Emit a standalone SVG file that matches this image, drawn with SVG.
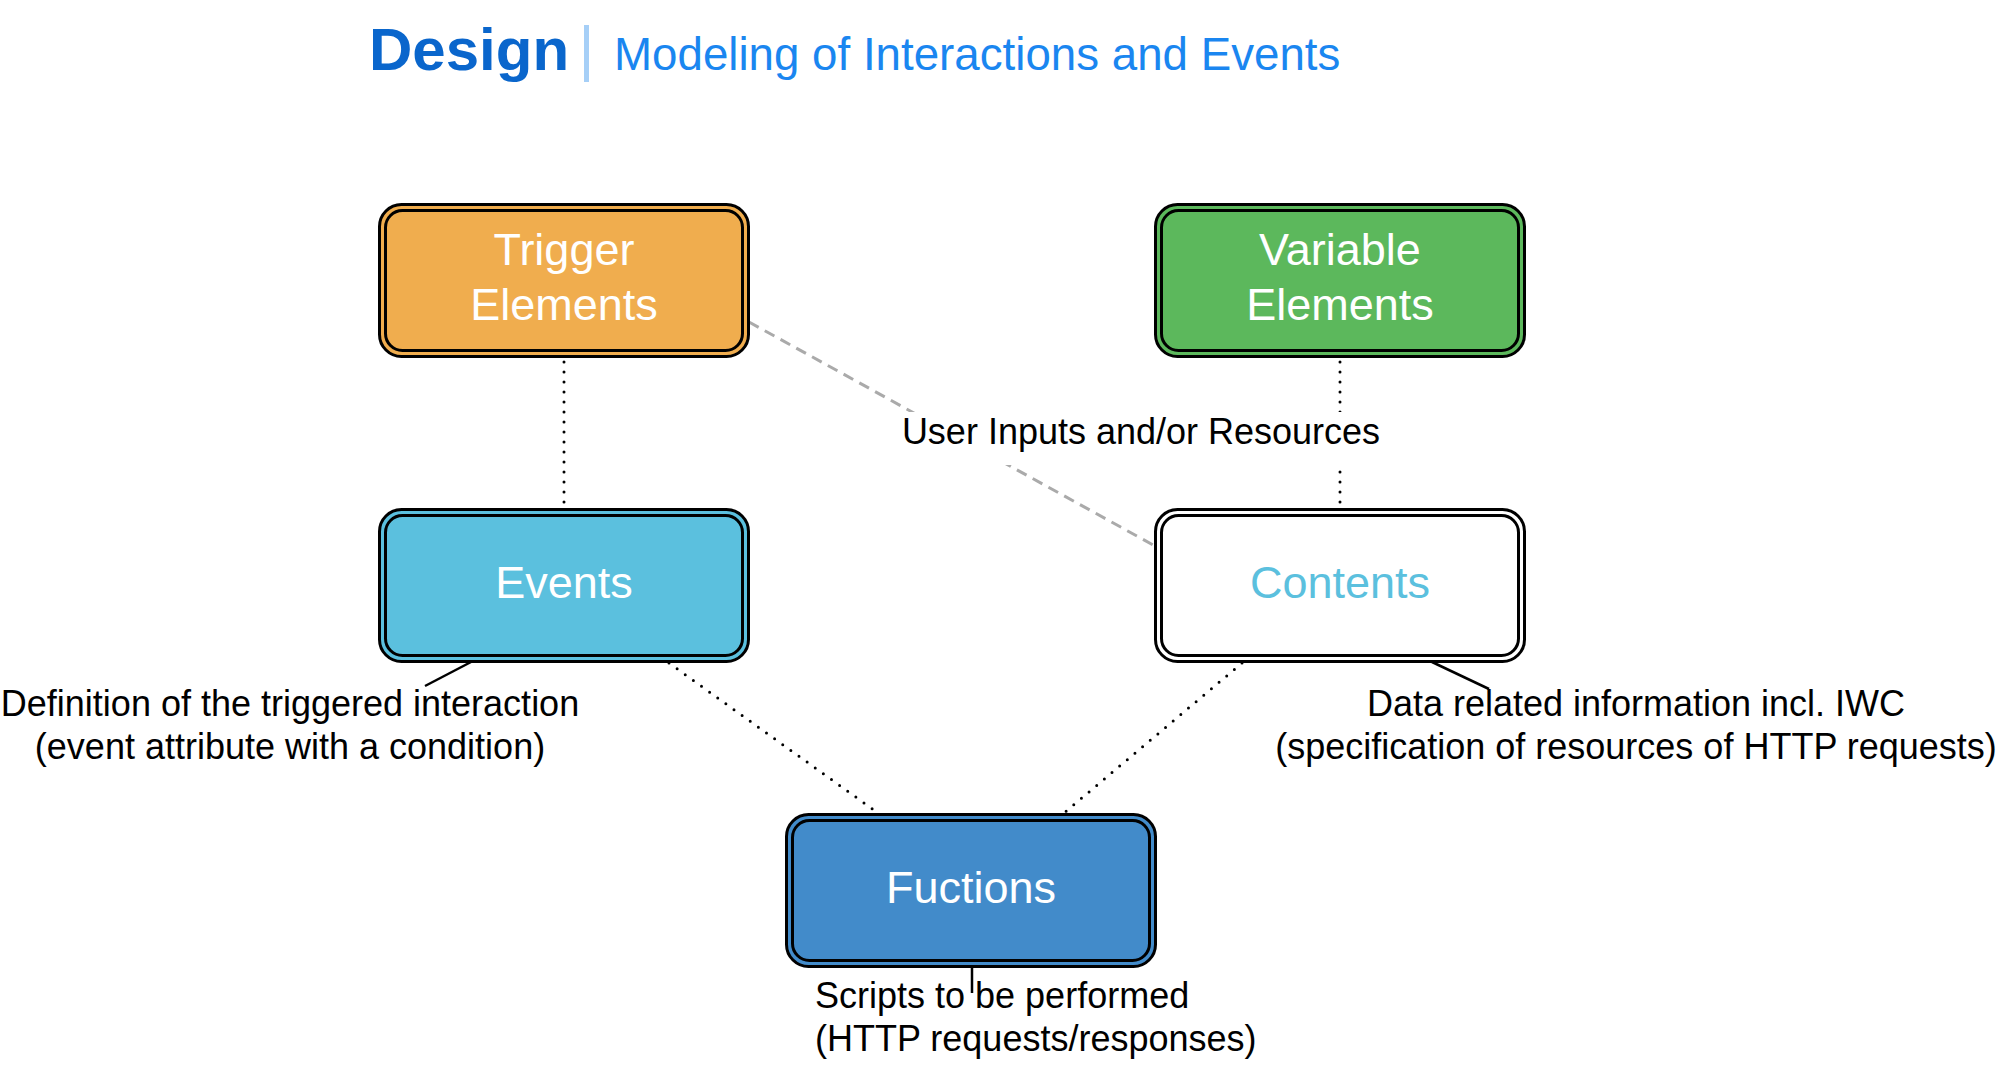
<svg xmlns="http://www.w3.org/2000/svg" width="2001" height="1068" viewBox="0 0 2001 1068">
<style>
  .t{font-family:"Liberation Sans",Arial,Helvetica,sans-serif}
  .box-o{stroke:#000;stroke-width:3}
  .box-i{fill:none;stroke:#000;stroke-width:3}
  .bt{font-family:"Liberation Sans",Arial,sans-serif;font-size:45px;fill:#fff;text-anchor:middle}
  .lbl{font-family:"Liberation Sans",Arial,sans-serif;font-size:36px;fill:#000}
  .dot{stroke:#000;stroke-width:3;stroke-linecap:round;stroke-dasharray:0 10;fill:none}
  .dash{stroke:#aaa;stroke-width:3;stroke-dasharray:11 7;fill:none}
  .lead{stroke:#000;stroke-width:2.5;fill:none}
</style>
<rect width="2001" height="1068" fill="#fff"/>
<g id="title">
  <text class="t" x="369" y="70" font-size="60" font-weight="bold" fill="#0a66cc">Design</text>
  <rect x="584" y="25" width="5" height="57" fill="#a6cff7"/>
  <text class="t" x="614" y="70" font-size="45.7" fill="#1a86f0">Modeling of Interactions and Events</text>
</g>
<g id="connectors">
  <line class="dash" x1="749" y1="322" x2="1155" y2="546"/>
  <line class="dot" x1="564" y1="362" x2="564" y2="506"/>
  <line class="dot" x1="1340" y1="362" x2="1340" y2="506"/>
  <line class="dot" x1="669" y1="663" x2="878" y2="813"/>
  <line class="dot" x1="1242" y1="663" x2="1064" y2="813"/>
  <line class="lead" x1="471" y1="662" x2="425" y2="686"/>
  <line class="lead" x1="1432" y1="662" x2="1489" y2="689"/>
  <line class="lead" x1="972" y1="967" x2="972" y2="993"/>
  <rect x="900" y="412" width="482" height="53" fill="#fff"/>
  <text class="lbl" x="1141" y="444" text-anchor="middle">User Inputs and/or Resources</text>
</g>
<g id="trigger">
  <rect class="box-o" x="379.5" y="204.5" width="369" height="152" rx="22" fill="#f0ad4e"/>
  <rect class="box-i" x="385.5" y="210.5" width="357" height="140" rx="17"/>
  <text class="bt" x="564" y="265">Trigger</text>
  <text class="bt" x="564" y="320">Elements</text>
</g>
<g id="variable">
  <rect class="box-o" x="1155.5" y="204.5" width="369" height="152" rx="22" fill="#5cb85c"/>
  <rect class="box-i" x="1161.5" y="210.5" width="357" height="140" rx="17"/>
  <text class="bt" x="1340" y="265">Variable</text>
  <text class="bt" x="1340" y="320">Elements</text>
</g>
<g id="events">
  <rect class="box-o" x="379.5" y="509.5" width="369" height="152" rx="22" fill="#5bc0de"/>
  <rect class="box-i" x="385.5" y="515.5" width="357" height="140" rx="17"/>
  <text class="bt" x="564" y="598">Events</text>
</g>
<g id="contents">
  <rect class="box-o" x="1155.5" y="509.5" width="369" height="152" rx="22" fill="#fff"/>
  <rect class="box-i" x="1161.5" y="515.5" width="357" height="140" rx="17"/>
  <text class="bt" x="1340" y="598" style="fill:#5bc0de">Contents</text>
</g>
<g id="functions">
  <rect class="box-o" x="786.5" y="814.5" width="369" height="152" rx="22" fill="#428bca"/>
  <rect class="box-i" x="792.5" y="820.5" width="357" height="140" rx="17"/>
  <text class="bt" x="971" y="903">Fuctions</text>
</g>
<g id="labels">
  <text class="lbl" x="290" y="716" text-anchor="middle">Definition of the triggered interaction</text>
  <text class="lbl" x="290" y="759" text-anchor="middle">(event attribute with a condition)</text>
  <text class="lbl" x="1636" y="716" text-anchor="middle">Data related information incl. IWC</text>
  <text class="lbl" x="1636" y="759" text-anchor="middle">(specification of resources of HTTP requests)</text>
  <text class="lbl" x="815" y="1008">Scripts to be performed</text>
  <text class="lbl" x="815" y="1051">(HTTP requests/responses)</text>
</g>
</svg>
